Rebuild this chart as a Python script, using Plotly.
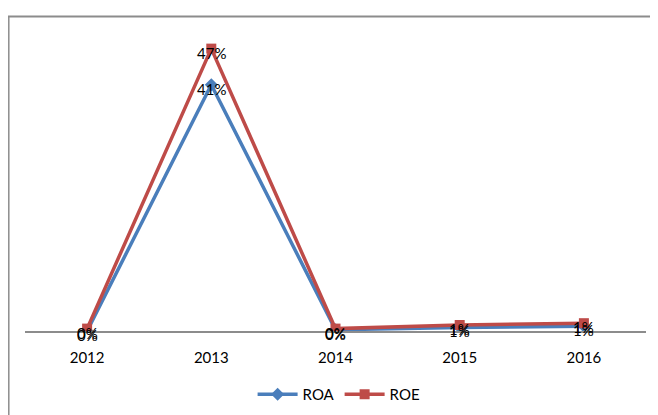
import plotly.graph_objects as go

years = ["2012", "2013", "2014", "2015", "2016"]
roa = [0.0, 0.41, 0.002, 0.006, 0.008]
roe = [0.004, 0.47, 0.004, 0.010, 0.013]

BLUE = "#4A7EBB"
RED = "#BE4B48"
FONT = "Lato, Liberation Sans, sans-serif"

fig = go.Figure()
fig.add_trace(go.Scatter(x=years, y=roa, name="ROA", mode="lines+markers",
                         line=dict(color=BLUE, width=3.5),
                         marker=dict(symbol="diamond", size=10, color=BLUE)))
fig.add_trace(go.Scatter(x=years, y=roe, name="ROE", mode="lines+markers",
                         line=dict(color=RED, width=3.5),
                         marker=dict(symbol="square", size=10, color=RED)))
for vals in (roa, roe):
    for i, v in enumerate(vals):
        # category axis: position given as category index
        fig.add_annotation(x=i, y=v, xref="x", yref="y", text=f"{v:.0%}",
                           showarrow=False, yshift=-4,
                           font=dict(color="black", size=15, family=FONT))

# page shows the figure shifted 8px to the right
OFFX = 8
W, H = 658 - OFFX, 415
ZERO = 330
TOP = 28
RIGHT = 646 - OFFX
L, T = 25 - OFFX, TOP
R, B = W - RIGHT, H - ZERO
pw, ph = W - L - R, H - T - B
def px2x(px): return (px - OFFX - L) / pw
def py2y(py): return (H - B - py) / ph

fig.add_shape(type="line", xref="paper", yref="paper",
              x0=px2x(8.8), x1=px2x(8.8), y0=py2y(430), y1=py2y(8),
              line=dict(color="#8C8C8C", width=1.5))
fig.add_shape(type="line", xref="paper", yref="paper",
              x0=px2x(8), x1=px2x(700), y0=py2y(8), y1=py2y(8),
              line=dict(color="#8C8C8C", width=2))

fig.update_layout(
    width=W, height=H,
    margin=dict(l=L, r=R, t=T, b=B),
    paper_bgcolor="white", plot_bgcolor="white",
    font=dict(family=FONT, size=15, color="black"),
    showlegend=True,
    legend=dict(orientation="h", x=0.505, xanchor="center", y=py2y(395), yanchor="middle",
                font=dict(size=15, family=FONT), itemwidth=40),
    xaxis=dict(type="category", range=[-0.5, 4.5], showline=True, linecolor="#8C8C8C",
               linewidth=1.5, showgrid=False, ticks="", ticklabelstandoff=12,
               tickfont=dict(size=15, family=FONT), zeroline=False),
    yaxis=dict(range=[0, 0.491], visible=False, showgrid=False, zeroline=False),
)

fig.write_html("out.html")
